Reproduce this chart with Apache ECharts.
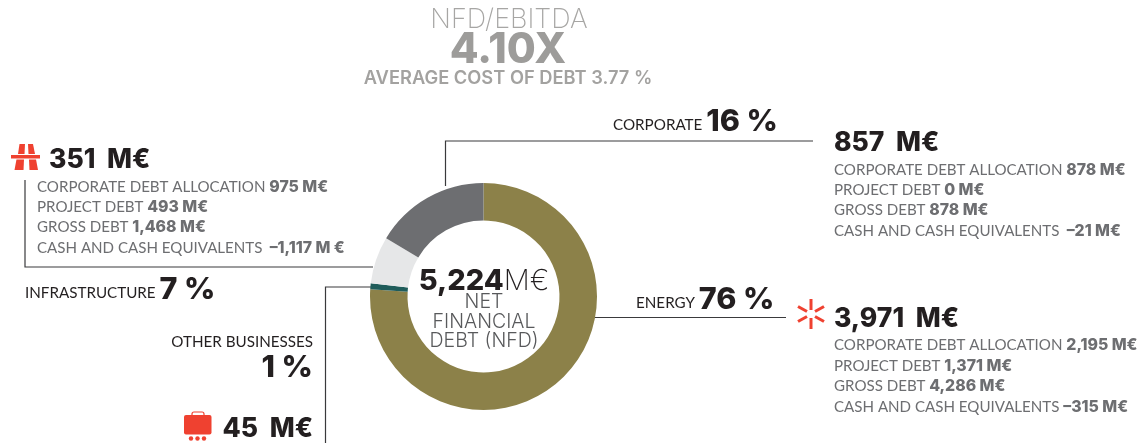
<!DOCTYPE html>
<html lang="en">
<head>
    <meta charset="UTF-8">
    <title>Net financial debt</title>
    <script src="https://cdn.jsdelivr.net/npm/echarts@6/dist/echarts.min.js"></script>
    <style>
        html, body { margin: 0; padding: 0; background: #fff; }
        #main { width: 1145px; height: 443px; }
    </style>
</head>
<body>
    <div id="main"></div>
    <script>
        // slices, clockwise from 12 o'clock
        const sectors = ['ENERGY', 'OTHER BUSINESSES', 'INFRASTRUCTURE', 'CORPORATE'];
        const nfd = [3971, 45, 351, 857];
        const sectorColors = ['#8c8149', '#1f5c5a', '#e6e7e8', '#6d6e71'];

        // breakdown lines next to each block
        const debtLabels = ['CORPORATE DEBT ALLOCATION ', 'PROJECT DEBT ', 'GROSS DEBT ', 'CASH AND CASH EQUIVALENTS '];
        const corporateDebt = ['878 M€', '0 M€', '878 M€', ' –21 M€'];
        const infraDebt = ['975 M€', '493 M€', '1,468 M€', ' –1,117 M €'];
        const energyDebt = ['2,195 M€', '1,371 M€', '4,286 M€', '–315 M€'];

        const HEAD = 'Inter, sans-serif';
        const BODY = 'Lato, sans-serif';
        const DARK = '#231f20';
        const GREY = '#6d6e71';
        const RED = '#ef4130';

        function txt(x, y, text, rich, align) {
            return {
                type: 'text', x: x, y: y, silent: true,
                style: { text: text, rich: rich, align: align || 'left', verticalAlign: 'middle' }
            };
        }
        function line(points) {
            return {
                type: 'polyline', silent: true,
                shape: { points: points },
                style: { stroke: '#3a3a3c', lineWidth: 1.2, fill: null }
            };
        }
        const amountRich = { t: { fontFamily: HEAD, fontWeight: 800, fontSize: 26.5, fill: DARK } };
        const sectorRich = {
            n: { fontFamily: BODY, fontSize: 15.2, fill: DARK, verticalAlign: 'bottom', padding: [0, 0, 5, 0] },
            p: { fontFamily: HEAD, fontWeight: 800, fontSize: 30.5, fill: DARK }
        };
        const debtRich = {
            l: { fontFamily: BODY, fontSize: 15.1, fill: GREY },
            v: { fontFamily: HEAD, fontWeight: 800, fontSize: 15.8, fill: GREY }
        };
        const centerRich = { a: { fontFamily: HEAD, fontWeight: 300, fontSize: 19.5, fill: '#58595b' } };
        function debtBlock(x, ys, values) {
            return values.map((v, i) => txt(x, ys[i], '{l|' + debtLabels[i] + '}{v|' + v + '}', debtRich));
        }

        const graphic = [
            // heading
            txt(509, 20, '{a|NFD/EBITDA}', { a: { fontFamily: HEAD, fontWeight: 200, fontSize: 27, fill: '#a7a6a4' } }, 'center'),
            txt(508, 50, '{a|4.10X}', { a: { fontFamily: HEAD, fontWeight: 800, fontSize: 42, fill: '#9d9c9a' } }, 'center'),
            txt(508, 79, '{a|AVERAGE COST OF DEBT 3.77 %}', { a: { fontFamily: HEAD, fontWeight: 600, fontSize: 18.3, fill: '#a3a2a0' } }, 'center'),

            // leader lines
            line([[445.5, 186], [445.5, 141], [813, 141]]),
            line([[25, 180], [25, 267], [373, 267]]),
            line([[325.5, 443], [325.5, 287], [371, 287]]),
            line([[594, 317.5], [786, 317.5]]),

            // corporate
            txt(613, 122, '{n|CORPORATE }{p|16 %}', sectorRich),
            txt(834, 143.5, '{t|857  M€}', amountRich),
            ...debtBlock(834, [170.5, 190.5, 210.5, 231.5], corporateDebt),

            // infrastructure
            txt(49, 160.5, '{t|351  M€}', amountRich),
            ...debtBlock(37, [187.5, 207.5, 227.5, 248.5], infraDebt),
            txt(25, 290, '{n|INFRASTRUCTURE }{p|7 %}', sectorRich),

            // other businesses
            txt(313, 342, '{n|OTHER BUSINESSES}', { n: { fontFamily: BODY, fontSize: 15.2, fill: DARK } }, 'right'),
            txt(313, 368, '{p|1 %}', sectorRich, 'right'),
            txt(313, 429, '{t|45  M€}', amountRich, 'right'),

            // energy
            txt(636, 300, '{n|ENERGY }{p|76 %}', sectorRich),
            txt(834, 319.5, '{t|3,971  M€}', amountRich),
            ...debtBlock(834, [345.5, 366.5, 386.5, 407.5], energyDebt),

            // centre of the ring
            txt(484, 281, '{a|5,224}{b|M€}', {
                a: { fontFamily: HEAD, fontWeight: 800, fontSize: 29, fill: DARK },
                b: { fontFamily: HEAD, fontWeight: 200, fontSize: 29, fill: DARK }
            }, 'center'),
            txt(484, 302, '{a|NET}', centerRich, 'center'),
            txt(484, 322, '{a|FINANCIAL}', centerRich, 'center'),
            txt(484, 341, '{a|DEBT (NFD)}', centerRich, 'center'),

            // motorway icon
            { type: 'polygon', silent: true, shape: { points: [[19.5, 144], [25, 144], [24.5, 154], [18, 154]] }, style: { fill: RED } },
            { type: 'polygon', silent: true, shape: { points: [[28, 144], [33, 144], [35, 154], [28.5, 154]] }, style: { fill: RED } },
            { type: 'rect', silent: true, shape: { x: 11, y: 155, width: 29, height: 3.5 }, style: { fill: RED } },
            { type: 'polygon', silent: true, shape: { points: [[16.5, 159.5], [24, 159.5], [23.5, 170], [14.5, 170]] }, style: { fill: RED } },
            { type: 'polygon', silent: true, shape: { points: [[29, 159.5], [36, 159.5], [38, 170], [29.5, 170]] }, style: { fill: RED } },

            // briefcase icon
            { type: 'rect', silent: true, shape: { x: 184, y: 415, width: 27.5, height: 19.5, r: 2 }, style: { fill: RED } },
            { type: 'rect', silent: true, shape: { x: 192, y: 412, width: 12, height: 5, r: 2 }, style: { fill: 'none', stroke: RED, lineWidth: 1.2 } },
            { type: 'circle', silent: true, shape: { cx: 191, cy: 438.5, r: 2.2 }, style: { fill: RED } },
            { type: 'circle', silent: true, shape: { cx: 197.5, cy: 438.5, r: 2.2 }, style: { fill: RED } },
            { type: 'circle', silent: true, shape: { cx: 204, cy: 438.5, r: 2.2 }, style: { fill: RED } }
        ];

        // spark icon
        [[811, 299, 811, 310], [811, 318, 811, 329], [798, 306.5, 807, 311.5], [815, 316.5, 824, 321.5], [798, 321.5, 807, 316.5], [815, 311.5, 824, 306.5]].forEach(s => {
            graphic.push({
                type: 'line', silent: true,
                shape: { x1: s[0], y1: s[1], x2: s[2], y2: s[3] },
                style: { stroke: RED, lineWidth: 3 }
            });
        });

        const myChart = echarts.init(document.getElementById('main'), null, { renderer: 'canvas' });
        myChart.setOption({
            animation: false,
            backgroundColor: '#ffffff',
            series: [{
                type: 'pie',
                center: [483.5, 296.5],
                radius: [76, 113.5],
                startAngle: 90,
                clockwise: true,
                silent: true,
                label: { show: false },
                labelLine: { show: false },
                data: sectors.map((name, i) => ({ name: name, value: nfd[i], itemStyle: { color: sectorColors[i] } }))
            }],
            graphic: graphic
        });
    </script>
</body>
</html>
